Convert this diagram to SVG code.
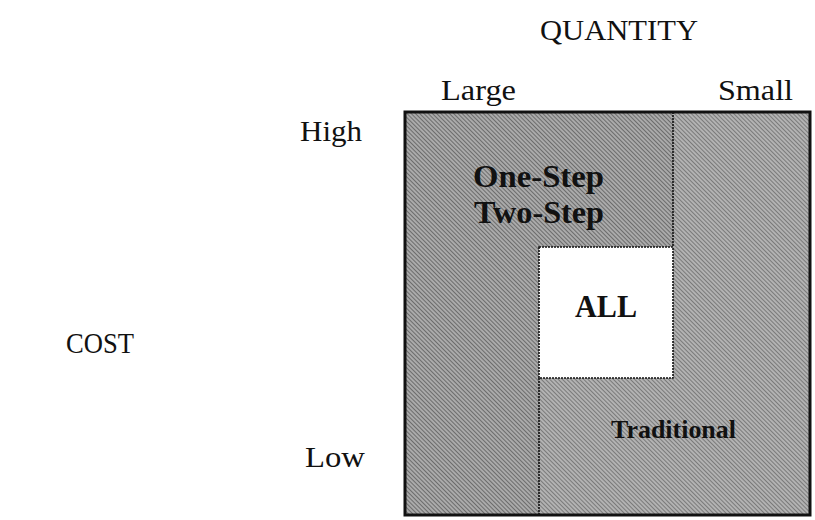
<svg xmlns="http://www.w3.org/2000/svg" width="815" height="520" viewBox="0 0 815 520">
<defs>
<pattern id="hatchL" width="3" height="3" patternUnits="userSpaceOnUse" patternTransform="rotate(-45)">
<rect width="3" height="3" fill="#aaaaaa"/>
<rect width="1" height="3" fill="#6c6c6c"/>
</pattern>
<pattern id="hatchR" width="3" height="3" patternUnits="userSpaceOnUse" patternTransform="rotate(-45)">
<rect width="3" height="3" fill="#b2b2b2"/>
<rect width="1" height="3" fill="#7a7a7a"/>
</pattern>
<style>
text{font-family:"Liberation Serif","Times New Roman",serif;fill:#111;}
.ax{font-size:29px;}
.lb{font-size:31px;font-weight:bold;}
.div{fill:none;stroke:#111;stroke-width:1.6;stroke-dasharray:2 1;}
</style>
</defs>
<rect width="815" height="520" fill="#ffffff"/>
<g id="axes">
<text class="ax" x="540" y="40" textLength="158" lengthAdjust="spacingAndGlyphs">QUANTITY</text>
<text class="ax" x="441" y="100" textLength="75" lengthAdjust="spacingAndGlyphs">Large</text>
<text class="ax" x="718" y="100" textLength="75" lengthAdjust="spacingAndGlyphs">Small</text>
<text class="ax" x="300" y="141" textLength="62" lengthAdjust="spacingAndGlyphs">High</text>
<text class="ax" x="66" y="353" textLength="68" lengthAdjust="spacingAndGlyphs">COST</text>
<text class="ax" x="305" y="467" textLength="60" lengthAdjust="spacingAndGlyphs">Low</text>
</g>
<g id="matrix">
<rect x="405" y="112" width="405" height="403" fill="url(#hatchR)"/>
<path d="M405,112 H673 V247 H539 V515 H405 Z" fill="url(#hatchL)"/>
<rect id="all-box" x="539" y="247" width="134" height="131" fill="#ffffff"/>
</g>
<g id="connectors">
<path class="div" d="M673,112 V247"/>
<path class="div" d="M539,247 H673 V378 H539 Z"/>
<path class="div" d="M539,378 V515"/>
</g>
<rect x="405" y="112" width="405" height="403" fill="none" stroke="#111" stroke-width="3"/>
<g id="one-two-step">
<text class="lb" x="473" y="187" textLength="131" lengthAdjust="spacingAndGlyphs">One-Step</text>
<text class="lb" x="474" y="223" textLength="130" lengthAdjust="spacingAndGlyphs">Two-Step</text>
</g>
<g id="all">
<text class="lb" x="575" y="317" textLength="62" lengthAdjust="spacingAndGlyphs">ALL</text>
</g>
<g id="traditional">
<text class="lb" x="611" y="438" style="font-size:25px" textLength="125" lengthAdjust="spacingAndGlyphs">Traditional</text>
</g>
</svg>
